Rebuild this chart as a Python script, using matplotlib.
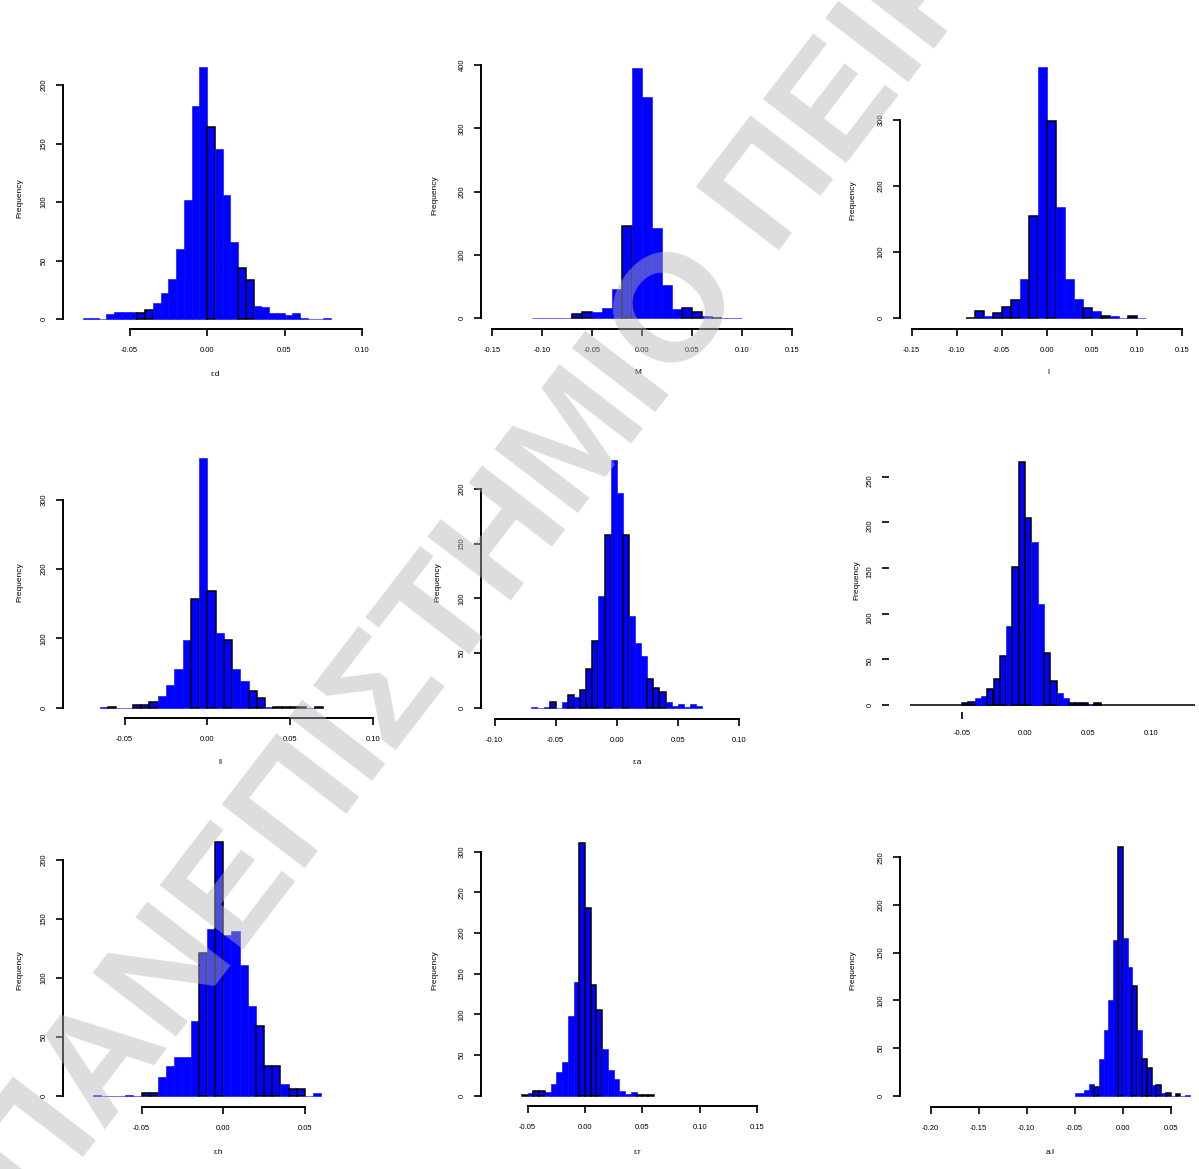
import numpy as np
import matplotlib
matplotlib.use("Agg")
import matplotlib.pyplot as plt

plt.rcParams['font.family'] = ['Liberation Sans', 'DejaVu Sans']

# Return histograms: first bin edge, bin width and counts per series
bin_start = [-0.08, -0.11, -0.09, -0.065, -0.07, -0.05, -0.08, -0.055, -0.05]
bin_width = [0.005, 0.01, 0.01, 0.005, 0.005, 0.005, 0.005, 0.005, 0.005]

counts_1 = [1, 1, 0, 4, 6, 6, 6, 5, 8, 14, 22, 34, 60, 102, 182, 215, 164, 145,
            106, 66, 44, 33, 11, 10, 5, 5, 3, 5, 1, 0, 0, 1]
counts_2 = [1, 0, 0, 0, 7, 10, 10, 17, 46, 146, 396, 350, 143, 53, 14, 17, 10,
            4, 1, 0, 1]
counts_3 = [1, 11, 4, 8, 17, 27, 59, 155, 380, 298, 168, 59, 29, 16, 11, 4, 4,
            1, 4, 1]
counts_4 = [1, 1, 0, 0, 4, 4, 8, 17, 33, 56, 98, 157, 360, 168, 108, 97, 56, 39,
            24, 14, 1, 1, 1, 1, 1, 0, 1]
counts_5 = [1, 0, 1, 5, 0, 5, 12, 10, 16, 35, 61, 102, 158, 227, 196, 158, 84,
            59, 47, 26, 18, 14, 5, 2, 3, 1, 3, 2]
counts_6 = [2, 3, 8, 10, 18, 29, 54, 87, 151, 266, 205, 179, 111, 57, 26, 13, 8,
            2, 2, 2, 0, 2]
counts_7 = [1, 0, 0, 0, 1, 0, 2, 2, 16, 25, 33, 33, 63, 121, 141, 215, 136, 140,
            111, 76, 59, 25, 25, 10, 6, 6, 0, 2]
counts_8 = [1, 3, 6, 6, 4, 14, 29, 41, 98, 140, 311, 231, 136, 105, 57, 32, 21,
            6, 2, 4, 1, 1, 1]
counts_9 = [3, 3, 6, 12, 9, 39, 69, 100, 163, 261, 165, 135, 115, 69, 39, 29, 11,
            11, 3, 3, 0, 2, 0, 1]
counts = [counts_1, counts_2, counts_3, counts_4, counts_5,
          counts_6, counts_7, counts_8, counts_9]

x_names = ["r.d", "M", "l", "ll", "r.a", "", "r.h", "r.r", "a.l"]

x_ticks = [[-0.05, 0.00, 0.05, 0.10],
           [-0.15, -0.10, -0.05, 0.00, 0.05, 0.10, 0.15],
           [-0.15, -0.10, -0.05, 0.00, 0.05, 0.10, 0.15],
           [-0.05, 0.00, 0.05, 0.10],
           [-0.10, -0.05, 0.00, 0.05, 0.10],
           [-0.05, 0.00, 0.05, 0.10],
           [-0.05, 0.00, 0.05],
           [-0.05, 0.00, 0.05, 0.10, 0.15],
           [-0.20, -0.15, -0.10, -0.05, 0.00, 0.05]]
y_top = [200, 400, 300, 300, 200, 250, 200, 300, 250]
y_step = [50, 100, 100, 100, 50, 50, 50, 50, 50]

# bins drawn with a black border
edged = [[7, 8, 16, 20, 21],
         [4, 5, 9, 15, 16, 18],
         [0, 1, 3, 4, 5, 7, 9, 13, 15, 18],
         [1, 4, 5, 6, 11, 13, 15, 18, 19, 21, 22, 23, 24, 26],
         [3, 6, 8, 9, 10, 12, 15, 19, 20, 21],
         [0, 1, 4, 5, 6, 8, 9, 10, 13, 14, 17, 18, 19, 21],
         [6, 7, 13, 15, 20, 21, 22, 24, 25],
         [0, 2, 3, 10, 11, 12, 13, 20, 21, 22],
         [4, 9, 12, 14, 15, 17, 19, 21]]

# pixel layout: x of zero, px per unit x, y of zero, px per count,
# axes left, right, bottom, top
W, H = 1199, 1169
layout = [(207.0, 1550, 319.0, 1.17, 63, 400, 329, 40),
          (642.3, 1000, 318.3, 0.633, 481, 810, 329, 40),
          (1046.7, 900, 318.3, 0.661, 900, 1199, 329, 40),
          (207.3, 1653, 707.7, 0.693, 63, 400, 718, 430),
          (616.7, 1220, 707.7, 1.093, 481, 810, 719, 430),
          (1025.0, 1260, 705.0, 0.913, 910, 1195, 712, 430),
          (223.3, 1633, 1095.7, 1.18, 63, 400, 1107, 820),
          (585.0, 1147, 1095.7, 0.813, 481, 810, 1106, 820),
          (1122.7, 960, 1095.7, 0.953, 900, 1199, 1107, 820)]
ylabel_pos = [(20, 198), (435, 195), (853, 200), (20, 582), (438, 582),
              (857, 580), (20, 970), (435, 970), (853, 970)]
xlabel_pos = [(215, 374), (638, 373), (1048, 373), (220, 763), (637, 763),
              None, (218, 1152), (637, 1152), (1050, 1152)]

fig = plt.figure(figsize=(W / 100, H / 100), dpi=100)


def add_panel(x0, xs, y0, ys, left, right, bottom, top):
    ax = fig.add_axes([left / W, 1 - bottom / H, (right - left) / W, (bottom - top) / H])
    ax.set_xlim((left - x0) / xs, (right - x0) / xs)
    ax.set_ylim((y0 - bottom) / ys, (y0 - top) / ys)
    return ax


for i in range(9):
    ax = add_panel(*layout[i])
    c = np.array(counts[i])
    edges = bin_start[i] + bin_width[i] * np.arange(len(c) + 1)
    ec = ['black' if k in edged[i] else 'blue' for k in range(len(c))]
    lw = [1.1 if k in edged[i] else 0.4 for k in range(len(c))]
    ax.bar(edges[:-1], c, width=bin_width[i], align='edge', color='blue',
           edgecolor=ec, linewidth=lw, zorder=2)

    for s in ['top', 'right']:
        ax.spines[s].set_visible(False)
    for s in ['left', 'bottom']:
        ax.spines[s].set_linewidth(1.4)

    yt = np.arange(0, y_top[i] + 1, y_step[i])
    ax.set_yticks(yt)
    ax.set_yticklabels([str(v) for v in yt])
    ax.set_xticks(x_ticks[i])
    ax.set_xticklabels([f"{v:.2f}".replace("-0.00", "0.00") for v in x_ticks[i]])
    ax.spines['left'].set_bounds(0, y_top[i])
    ax.spines['bottom'].set_bounds(x_ticks[i][0], x_ticks[i][-1])
    ax.tick_params(axis='y', labelrotation=90, length=5, width=1.2, pad=6, labelsize=5.5)
    ax.tick_params(axis='x', length=5, width=1.2, pad=8, labelsize=5.5)
    for t in ax.get_yticklabels():
        t.set_va('center')

    if i == 5:
        # this series has only a baseline and bare tick marks
        ax.spines['left'].set_visible(False)
        ax.spines['bottom'].set_visible(False)
        ax.spines['left'].set_position(('outward', 15))
        ax.axhline(0, color='#333333', linewidth=1.4, zorder=1)
        for k, t in enumerate(ax.xaxis.get_major_ticks()):
            if k > 0:
                t.tick1line.set_visible(False)

    px, py = ylabel_pos[i]
    fig.text(px / W, 1 - py / H, "Frequency", rotation=90, ha='center', va='center',
             fontsize=6)
    if xlabel_pos[i] is not None:
        px, py = xlabel_pos[i]
        fig.text(px / W, 1 - py / H, x_names[i], ha='center', va='center', fontsize=6)

# watermark across the whole sheet
fig.text(591 / W, 1 - 433 / H, "ΠΑΝΕΠΙΣΤΗΜΙΟ ΠΕΙΡΑΙΩΣ", family='Liberation Sans',
         fontsize=110, fontweight='bold', color=(0.7, 0.7, 0.7), alpha=0.45,
         rotation=52.5, rotation_mode='anchor', ha='center', va='center', zorder=10)

fig.savefig("out.png", dpi=100, facecolor='white')
